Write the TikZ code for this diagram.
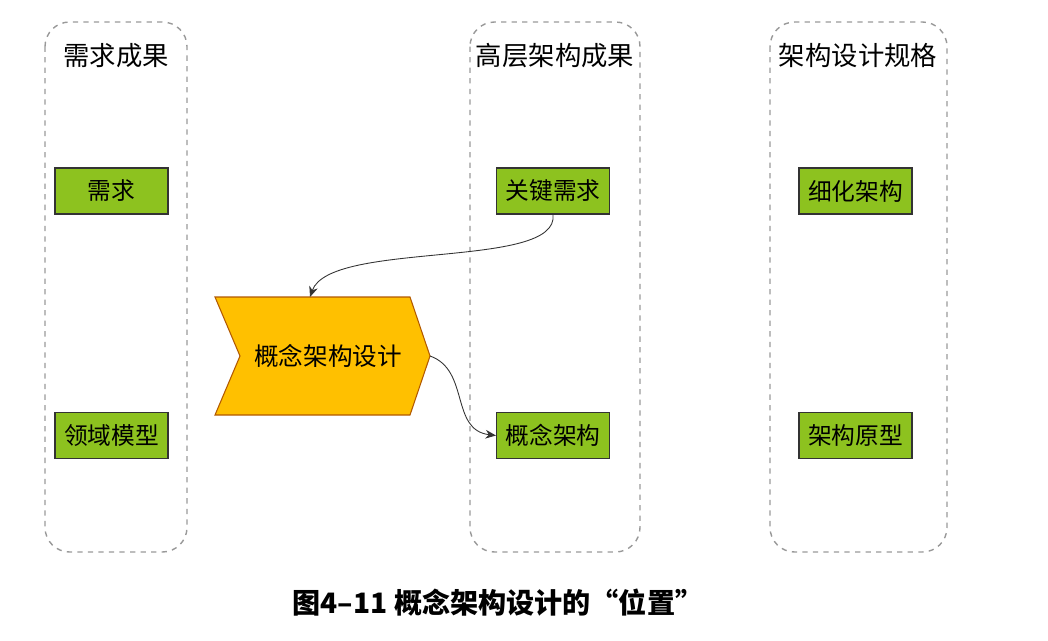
\documentclass[tikz,border=0pt]{standalone}
\usepackage{fontspec}
\setmainfont{Noto Sans CJK SC}
\usetikzlibrary{arrows.meta}
\definecolor{grn}{HTML}{8DC21F}
\definecolor{orn}{HTML}{FFC000}
\tikzset{
 col/.style={draw=gray!80, dashed, rounded corners=14pt, line width=0.8pt},
 ttl/.style={font=\fontsize{15}{17}\selectfont},
 gbox/.style={draw=black!80, fill=grn, line width=0.6pt, minimum width=113*0.02cm, minimum height=46*0.02cm, inner sep=0pt, font=\fontsize{13.5}{15}\selectfont},
 conn/.style={-{Stealth[length=6pt,width=5pt]}, line width=0.5pt, black!80}
}
\begin{document}
\begin{tikzpicture}[x=0.02cm,y=-0.02cm]
\useasboundingbox (0,0) rectangle (1048,640);
\draw[col] (45,22) rectangle (187,552);
\draw[col] (470,22) rectangle (640,552);
\draw[col] (770,22) rectangle (947,552);
\node[ttl] (t1) at (116,56) {需求成果};
\node[ttl] (t2) at (555,56) {高层架构成果};
\node[ttl] (t3) at (858,56) {架构设计规格};
\node[gbox] (a1) at (111.5,191) {需求};
\node[gbox] (a2) at (111.5,435.5) {领域模型};
\node[gbox] (b1) at (553,191) {关键需求};
\node[gbox] (b2) at (553,435.5) {概念架构};
\node[gbox] (c1) at (855.5,191) {细化架构};
\node[gbox] (c2) at (855.5,435.5) {架构原型};
\draw[fill=orn, draw=orange!70!black, line width=0.6pt] (215,297) -- (410,297) -- (430,356) -- (410,415) -- (215,415) -- (240,356) -- cycle;
\node[font=\fontsize{14}{16}\selectfont] (ch) at (328,356) {概念架构设计};
\coordinate (ctop) at (310,297);
\coordinate (ctip) at (430,356);
\draw[conn] (b1.south) .. controls (560,270) and (330,240) .. (ctop);
\draw[conn] (ctip) .. controls (470,370) and (450,430) .. (b2.west);
\node[font=\fontsize{16}{18}\selectfont\bfseries] (cap) at (498,603) {图4–11 概念架构设计的“位置”};
\end{tikzpicture}
\end{document}
